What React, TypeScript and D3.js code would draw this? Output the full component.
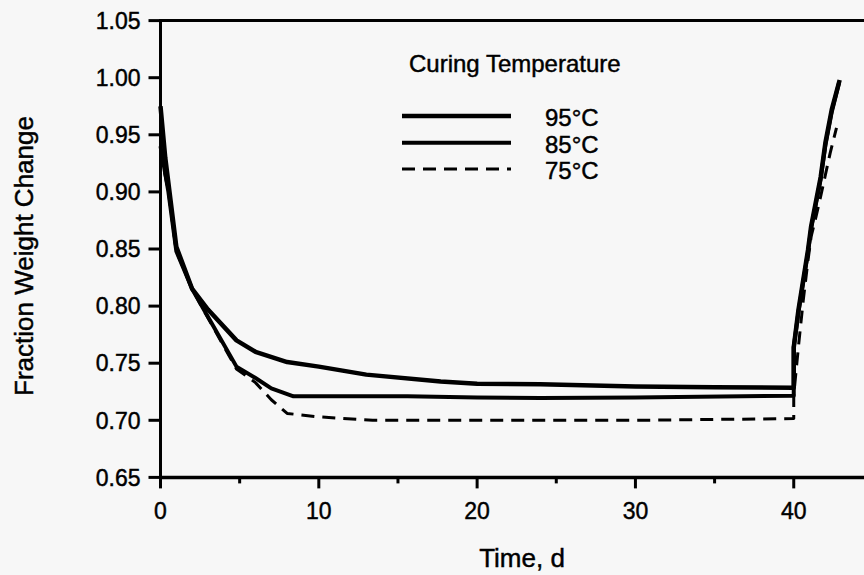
import { useRef, useEffect } from 'react';
import * as d3 from 'd3';

// time (d) vs fraction weight change
const curve95: [number, number][] = [
    [0, 0.975], [0.3, 0.93], [1, 0.852], [2, 0.815], [3, 0.797], [4.8, 0.770], [6, 0.760],
    [8, 0.751], [10, 0.747], [13, 0.740], [17.7, 0.734], [20, 0.732], [24, 0.7315],
    [30, 0.7295], [35, 0.729], [40, 0.7285], [40, 0.764], [40.3, 0.797], [40.6, 0.823],
    [40.9, 0.849], [41.1, 0.870], [41.7, 0.913], [42.0, 0.943], [42.4, 0.972], [42.9, 0.998]
];
const curve85: [number, number][] = [
    [0, 0.94], [0.5, 0.90], [1, 0.848], [2, 0.815], [2.7, 0.798], [4.8, 0.747], [6, 0.737],
    [7, 0.728], [8.4, 0.721], [15.6, 0.721], [20, 0.720], [24, 0.7195], [30, 0.720],
    [40, 0.7215], [40, 0.764], [40.3, 0.795], [40.6, 0.821], [40.9, 0.847], [41.1, 0.868],
    [41.7, 0.911], [42.0, 0.941], [42.4, 0.970], [42.85, 0.995]
];
const curve75: [number, number][] = [
    [0, 0.935], [0.5, 0.90], [1, 0.848], [2, 0.815], [2.7, 0.797], [4.8, 0.745], [6, 0.733],
    [7, 0.718], [8, 0.706], [10, 0.703], [13.4, 0.700], [20, 0.700], [30, 0.700],
    [40, 0.7015], [40, 0.722], [40.3, 0.765], [40.6, 0.805], [40.9, 0.840], [41.1, 0.861],
    [41.4, 0.878], [41.7, 0.896], [42.0, 0.915], [42.3, 0.934], [42.7, 0.956]
];

const seriesLabels = ['95°C', '85°C', '75°C'];
const yTicks = [0.65, 0.70, 0.75, 0.80, 0.85, 0.90, 0.95, 1.00, 1.05];
const xMajorTicks = [0, 10, 20, 30, 40];
const xMinorTicks = [5, 15, 25, 35];

const App = () => {
    const svgRef = useRef<SVGSVGElement | null>(null);

    useEffect(() => {
        const svgElement = svgRef.current;
        if (!svgElement) return;

        const width = 864;
        const height = 575;
        const font = 'Liberation Sans, Arial, Helvetica, sans-serif';

        const svg = d3.select(svgElement);
        svg.selectAll('*').remove();

        svg.append('rect')
            .attr('width', width)
            .attr('height', height)
            .attr('fill', '#f7f7f7');

        const x = d3.scaleLinear().domain([0, 45]).range([160.5, 872.9]);
        const y = d3.scaleLinear().domain([0.65, 1.05]).range([477.4, 20.6]);

        // small helper so all labels share the scanned, slightly heavy look
        const label = (sel: d3.Selection<SVGTextElement, unknown, null, undefined>, size: number) =>
            sel.style('font-family', font)
                .style('font-size', `${size}px`)
                .style('fill', '#000')
                .style('stroke', '#000')
                .style('stroke-width', 0.45);

        // frame: left, bottom and top (right side is cropped)
        svg.append('line')
            .attr('x1', x(0)).attr('x2', x(0))
            .attr('y1', y(1.05) - 1.5).attr('y2', y(0.65) + 1.5)
            .attr('stroke', '#000').attr('stroke-width', 3);
        svg.append('line')
            .attr('x1', x(0)).attr('x2', width)
            .attr('y1', y(0.65)).attr('y2', y(0.65))
            .attr('stroke', '#000').attr('stroke-width', 3.5);
        svg.append('line')
            .attr('x1', x(0)).attr('x2', width)
            .attr('y1', y(1.05)).attr('y2', y(1.05))
            .attr('stroke', '#000').attr('stroke-width', 3);

        // y ticks + labels
        const yAxis = svg.append('g');
        yTicks.forEach(t => {
            yAxis.append('line')
                .attr('x1', x(0) - 12).attr('x2', x(0))
                .attr('y1', y(t)).attr('y2', y(t))
                .attr('stroke', '#000').attr('stroke-width', 3);
            label(yAxis.append('text')
                .attr('x', x(0) - 20)
                .attr('y', y(t))
                .attr('dy', '0.36em')
                .attr('text-anchor', 'end')
                .text(d3.format('.2f')(t)), 23);
        });

        // x ticks + labels
        const xAxis = svg.append('g');
        xMajorTicks.forEach(t => {
            xAxis.append('line')
                .attr('x1', x(t)).attr('x2', x(t))
                .attr('y1', y(0.65)).attr('y2', y(0.65) + 11)
                .attr('stroke', '#000').attr('stroke-width', 3);
            label(xAxis.append('text')
                .attr('x', x(t))
                .attr('y', 519)
                .attr('text-anchor', 'middle')
                .text(t), 23);
        });
        xMinorTicks.forEach(t => {
            xAxis.append('line')
                .attr('x1', x(t)).attr('x2', x(t))
                .attr('y1', y(0.65)).attr('y2', y(0.65) + 6)
                .attr('stroke', '#000').attr('stroke-width', 3);
        });

        // axis titles
        label(svg.append('text')
            .attr('x', 522)
            .attr('y', 567)
            .attr('text-anchor', 'middle')
            .text('Time, d'), 26);

        label(svg.append('text')
            .attr('transform', 'translate(33, 256) rotate(-90)')
            .attr('text-anchor', 'middle')
            .text('Fraction Weight Change'), 26);

        // curves
        const line = d3.line<[number, number]>()
            .x(d => x(d[0]))
            .y(d => y(d[1]));

        const styles = [
            { data: curve95, width: 4.5, dash: null },
            { data: curve85, width: 4, dash: null },
            { data: curve75, width: 3, dash: '13,8' },
        ];

        styles.forEach(s => {
            svg.append('path')
                .datum(s.data)
                .attr('fill', 'none')
                .attr('stroke', '#000')
                .attr('stroke-width', s.width)
                .attr('stroke-linejoin', 'round')
                .attr('stroke-dasharray', s.dash)
                .attr('d', line);
        });

        // legend
        label(svg.append('text')
            .attr('x', 409)
            .attr('y', 72)
            .text('Curing Temperature'), 24);

        const legendRows = [126, 152.7, 179];
        seriesLabels.forEach((name, i) => {
            const s = styles[i];
            svg.append('line')
                .attr('x1', 402).attr('x2', 511)
                .attr('y1', legendRows[i] - 10).attr('y2', legendRows[i] - 10)
                .attr('stroke', '#000')
                .attr('stroke-width', s.width)
                .attr('stroke-dasharray', s.dash);
            label(svg.append('text')
                .attr('x', 545)
                .attr('y', legendRows[i])
                .text(name), 24);
        });
    }, []);

    return (
        <div style={{ position: 'fixed', left: 0, top: 0, width: 864, height: 575, background: '#f7f7f7' }}>
            <svg ref={svgRef} width={864} height={575} style={{ display: 'block' }}></svg>
        </div>
    );
};

export default App;
